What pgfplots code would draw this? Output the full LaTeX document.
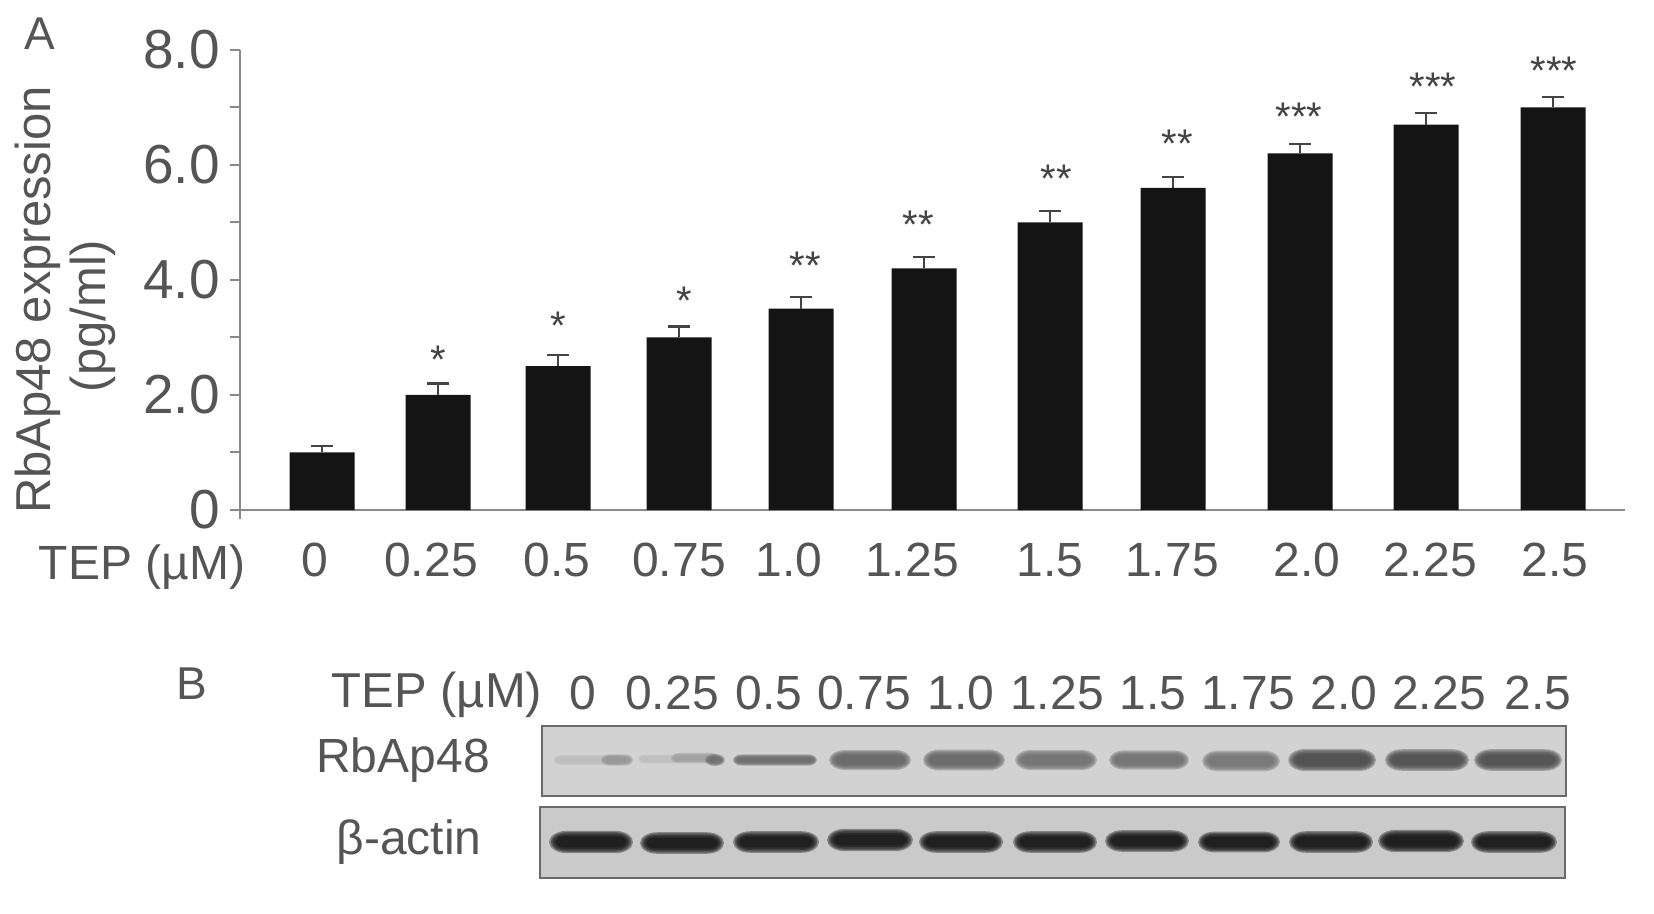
\documentclass[border=0pt]{standalone}
\usepackage{fontspec}
\setmainfont{Liberation Sans}
\usepackage{pgfplots}
\usepackage{pgfplotstable}
\pgfplotsset{compat=1.18}
\definecolor{inkgray}{HTML}{555555}
\definecolor{axisgray}{HTML}{8A8A8A}
\definecolor{barblack}{HTML}{141414}
\definecolor{blottop}{HTML}{D2D2D2}
\definecolor{blotlow}{HTML}{CACACA}
\definecolor{blotedge}{HTML}{6A6A6A}

% bars: x is the bar centre in picture pixels, top, error
\pgfplotstableread{
x    y    err
322  1.0  0.11
438  2.0  0.20
558  2.5  0.19
679  3.0  0.19
801  3.5  0.20
924  4.2  0.20
1050 5.0  0.20
1173 5.6  0.19
1300 6.2  0.17
1426 6.7  0.20
1553 7.0  0.18
}\bars

\pgfplotstableread{
x    y    s
438  2.69 *
558  3.28 *
684  3.72 *
805  4.34 **
918  5.04 **
1056 5.84 **
1177 6.45 **
1299 6.92 ***
1433 7.45 ***
1554 7.73 ***
}\stars

% bands: lane centre, height in panel, half width, half height (pt), gray level
\pgfplotstableread{
x    y   w    h   g
590  760 18   2.5 0.74
617  760 8    2.8 0.58
660  759 11   2.2 0.74
695  758 12   2.6 0.62
715  760 5    3.0 0.42
775  760 21   2.8 0.40
870  760 20.5 5.0 0.38
964  760 20.5 5.2 0.38
1056 760 20.5 5.0 0.42
1149 760 20   4.8 0.42
1241 761 19.5 5.2 0.44
1332 760 22   5.6 0.27
1427 760 21   5.4 0.28
1518 760 22   5.4 0.28
}\topbands

\pgfplotstableread{
x    y   w    h   g
591  842 21   5.6 0.05
682  843 21   5.4 0.05
776  842 21.5 5.4 0.05
870  840 21.5 5.6 0.05
961  842 21   5.4 0.05
1055 842 21   5.4 0.05
1147 841 21   5.4 0.05
1239 842 20.5 5.2 0.05
1331 842 21   5.4 0.05
1421 841 21.5 5.6 0.05
1514 842 21.5 5.4 0.05
}\lowbands

% soft edged band: nested lens shapes, half size \bw x \bh
\pgfdeclareplotmark{band}{%
  \pgfsetfillopacity{0.36}%
  \foreach \k in {1.0,0.88,0.76,0.62,0.48}{%
    \pgfmathsetmacro\hh{\bh*\k}%
    \pgfmathsetmacro\hw{\bw-\bh*(1-\k)*1.2}%
    \pgfmathsetmacro\rx{1.6*\hh}%
    \pgfmathsetmacro\aa{\hw-\rx}%
    \pgfpathmoveto{\pgfpoint{-\aa pt}{\hh pt}}%
    \pgfpathlineto{\pgfpoint{\aa pt}{\hh pt}}%
    \pgfpatharc{90}{-90}{\rx pt and \hh pt}%
    \pgfpathlineto{\pgfpoint{-\aa pt}{-\hh pt}}%
    \pgfpatharc{270}{90}{\rx pt and \hh pt}%
    \pgfpathclose
    \pgfusepathqfill
  }%
}

\pgfplotsset{
  blot/.style={
    scale only axis,
    anchor=south west,
    y dir=reverse,
    ytick=\empty,
    axis line style={draw=blotedge,line width=1pt},
    clip=true,
    colormap={grayband}{gray(0cm)=(0); gray(1cm)=(1)},
    point meta min=0,point meta max=1,
  },
  bandplot/.style={
    scatter,only marks,
    point meta=explicit,
    mark=band,
    scatter/use mapped color={draw=none,fill=mapped color},
    visualization depends on={\thisrow{w} \as \bw},
    visualization depends on={\thisrow{h} \as \bh},
  },
}

\begin{document}
\begin{tikzpicture}
\begin{scope}[x=0.5pt,y=-0.5pt]
  \path[use as bounding box] (0,0) rectangle (1654,914);
  \node[text=inkgray,font=\fontsize{23}{23}\selectfont] at (40,34) {A};
  \node[text=inkgray,font=\fontsize{23}{23}\selectfont] at (192,684) {B};
  \node[text=inkgray,font=\fontsize{24.5}{25}\selectfont,rotate=90] at (38,300) {RbAp48 expression};
  \node[text=inkgray,font=\fontsize{24.5}{25}\selectfont,rotate=90] at (93,316) {(pg/ml)};
  \node[text=inkgray,font=\fontsize{24}{24}\selectfont] at (142,567) {TEP (µM)};
  \node[text=inkgray,font=\fontsize{24.5}{25}\selectfont] at (437,695) {TEP (µM)};
  \node[text=inkgray,font=\fontsize{24}{24}\selectfont] at (403,760) {RbAp48};
  \node[text=inkgray,font=\fontsize{24}{24}\selectfont] at (409,842) {β-actin};
\end{scope}

\begin{axis}[
  scale only axis,
  anchor=south west,
  at={(120pt,-259.6pt)},
  width=692.5pt,
  height=234.6pt,
  xmin=240,xmax=1625,
  ymin=-0.16,ymax=8,
  axis x line=middle,
  axis y line=left,
  axis line style={draw=axisgray,line width=1pt,-},
  hide obscured x ticks=false,
  hide obscured y ticks=false,
  tick style={draw=axisgray,line width=1pt},
  tick align=outside,
  major tick length=5pt,
  minor tick length=5pt,
  ytick={0,2,4,6,8},
  yticklabels={0,2.0,4.0,6.0,8.0},
  minor ytick={1,3,5,7},
  yticklabel style={font=\fontsize{27.5}{28}\selectfont,text=inkgray,inner sep=0pt,xshift=-5pt},
  xtick={315,431,557,679,789,912,1050,1172,1307,1430,1555},
  xticklabels={0,0.25,0.5,0.75,1.0,1.25,1.5,1.75,2.0,2.25,2.5},
  x tick style={draw=none},
  xticklabel style={font=\fontsize{24}{24}\selectfont,text=inkgray,yshift=-8pt},
  clip=false,
]
\addplot[ybar,bar width=32.5pt,bar shift=0pt,fill=barblack,draw=none,
  error bars/.cd,y dir=plus,y explicit,
  error bar style={draw=inkgray!80!black,line width=1.1pt},
  error mark options={rotate=90,mark size=5.5pt,line width=1.1pt,draw=inkgray!80!black}]
  table[x=x,y=y,y error=err] {\bars};
\addplot[only marks,mark=none,point meta=explicit symbolic,
  nodes near coords,
  nodes near coords style={anchor=center,inner sep=0pt,yshift=-2.4pt,text=inkgray!80!black,
    font=\fontsize{20}{20}\selectfont}]
  table[x=x,y=y,meta=s] {\stars};
\end{axis}

\begin{axis}[
  blot,
  at={(271pt,-398pt)},
  width=512pt,
  height=35pt,
  xmin=542,xmax=1566,
  ymin=726,ymax=796,
  axis background/.style={fill=blottop},
  xtick={583,672,769,864,961,1057,1153,1248,1344,1439,1538},
  xticklabels={0,0.25,0.5,0.75,1.0,1.25,1.5,1.75,2.0,2.25,2.5},
  xticklabel pos=upper,
  x tick style={draw=none},
  xticklabel style={font=\fontsize{24}{24}\selectfont,text=inkgray,yshift=4.7pt},
]
\addplot[bandplot] table[x=x,y=y,meta=g] {\topbands};
\end{axis}

\begin{axis}[
  blot,
  at={(270pt,-439pt)},
  width=512.5pt,
  height=35.5pt,
  xmin=540,xmax=1565,
  ymin=807,ymax=878,
  axis background/.style={fill=blotlow},
  xtick=\empty,
]
\addplot[bandplot] table[x=x,y=y,meta=g] {\lowbands};
\end{axis}
\end{tikzpicture}
\end{document}
